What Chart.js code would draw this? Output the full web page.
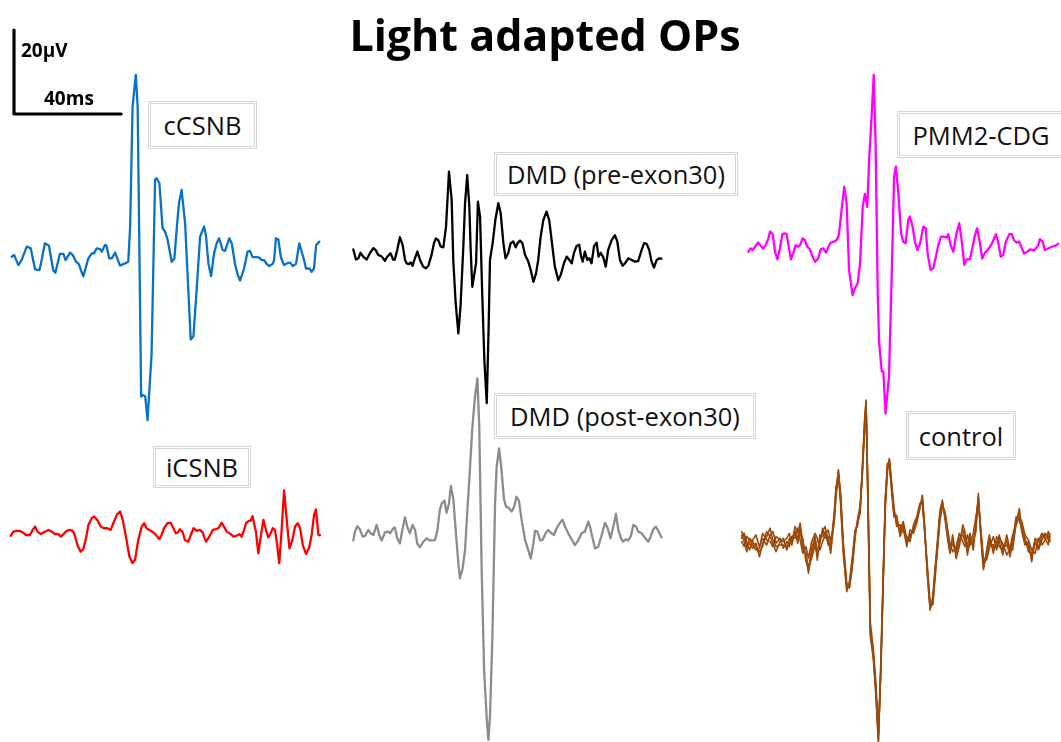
<!DOCTYPE html>
<html>
<head>
<meta charset="utf-8">
<script src="https://cdn.jsdelivr.net/npm/chart.js@4"></script>
<style>
  html, body { margin: 0; padding: 0; background: #fff; }
  #wrap { position: relative; width: 1061px; height: 742px; overflow: hidden; font-family: "Open Sans", sans-serif; }
  #ops { position: absolute; left: 0; top: 0; }
  .title { position: absolute; left: 0; width: 1090px; top: 5px; text-align: center; font-weight: bold; font-size: 43px; color: #000; }
  .tag { position: absolute; box-sizing: border-box; border: 3px double #d6d6d6; background: #fff; font-size: 25.5px; color: #111;
         display: flex; align-items: center; justify-content: center; white-space: nowrap; }
  .bar { position: absolute; font-weight: bold; font-size: 19px; color: #000; line-height: 1; }
</style>
</head>
<body>
<div id="wrap">
  <canvas id="ops" width="1061" height="742"></canvas>
  <div class="title">Light adapted OPs</div>
  <div class="bar" style="left:21px; top:41px;">20µV</div>
  <div class="bar" style="left:44px; top:89px;">40ms</div>
  <div class="tag" style="left:148px; top:101px; width:109px; height:48px;">cCSNB</div>
  <div class="tag" style="left:494px; top:152px; width:244px; height:44px;">DMD (pre-exon30)</div>
  <div class="tag" style="left:897px; top:111px; width:168px; height:47px;">PMM2-CDG</div>
  <div class="tag" style="left:153px; top:446px; width:98px; height:42px;">iCSNB</div>
  <div class="tag" style="left:494px; top:393px; width:262px; height:46px;">DMD (post-exon30)</div>
  <div class="tag" style="left:906px; top:411px; width:110px; height:49px;">control</div>
</div>
<script>
// oscillatory potentials, [time ms, amplitude µV]
const cCSNB = [
  [0.0,0.3],[0.9,0.7],[2.5,-1.7],[3.7,-0.5],[5.6,2.7],[7.1,2.3],[8.7,-2.7],[10.3,-2.9],[10.8,-1.7],[12.4,3.5],
  [13.9,2.9],[15.5,-2.9],[16.3,-3.5],[18.0,1.0],[19.3,1.0],[20.1,-0.5],[21.8,1.3],[22.8,0.7],[24.0,-0.9],[25.0,-1.4],
  [26.7,-4.4],[28.6,-0.1],[29.9,1.1],[30.7,1.1],[31.7,2.3],[33.0,2.1],[33.6,1.5],[34.8,3.1],[35.4,2.9],[36.4,-0.1],
  [37.3,-0.1],[38.6,1.3],[40.4,-1.8],[41.9,-1.4],[43.5,-0.9],[44.2,7.5],[45.1,36.0],[46.3,43.6],[47.0,36.0],[48.3,-33.0],
  [48.9,-32.6],[49.8,-32.9],[50.7,-38.6],[52.2,-22.7],[53.5,18.6],[54.1,19.0],[55.1,17.8],[56.3,7.1],[57.2,6.3],[58.2,4.3],
  [59.7,-0.9],[60.7,-0.1],[61.6,7.1],[62.4,13.0],[63.4,16.2],[64.7,8.3],[65.9,-7.6],[66.8,-19.4],[67.8,-18.7],[69.0,-7.6],
  [70.3,5.1],[71.8,7.5],[72.5,5.2],[73.4,-1.3],[74.4,-4.3],[75.5,1.1],[76.5,3.5],[77.4,4.7],[78.7,1.9],[79.6,1.7],
  [81.2,4.7],[82.1,3.5],[83.3,-1.3],[84.2,-3.7],[85.2,-5.4],[86.7,-2.5],[88.0,1.5],[88.9,1.7],[89.9,0.2],[91.4,0.2],
  [92.4,0.1],[93.3,-0.5],[94.2,-0.5],[95.1,-1.4],[96.1,-1.9],[97.4,-1.4],[97.9,-0.5],[98.6,4.7],[99.5,4.4],[100.4,0.3],
  [101.6,-1.7],[102.6,-1.3],[103.9,-1.1],[104.9,-1.9],[106.1,-1.4],[107.3,3.5],[108.2,1.5],[109.1,-0.5],[109.8,-2.5],[111.1,-2.5],
  [111.9,-3.3],[112.8,-2.5],[113.6,3.1],[114.8,3.9]
];

const dmdPre = [
  [0.0,1.8],[1.0,-0.6],[1.9,-0.3],[2.7,1.0],[3.7,0.1],[5.0,-0.6],[6.2,0.9],[7.5,2.1],[8.3,1.7],[9.3,0.5],
  [10.6,0.1],[11.8,-0.9],[12.7,0.1],[13.9,0.9],[14.9,-0.7],[15.5,-0.6],[16.4,1.7],[17.4,4.7],[18.4,2.9],[19.3,-0.7],
  [19.9,-1.5],[20.8,-1.7],[21.5,-1.3],[22.1,-2.1],[23.0,-0.3],[23.9,1.3],[24.9,-0.7],[26.1,-2.3],[27.1,-2.7],[28.0,-2.1],
  [29.2,0.5],[30.1,3.3],[30.8,4.4],[31.7,4.0],[32.6,2.5],[33.6,2.3],[34.6,7.2],[35.7,20.3],[36.7,13.6],[37.3,-0.7],
  [38.2,-11.0],[39.2,-18.2],[40.0,-11.8],[41.0,1.7],[41.7,12.8],[42.5,19.5],[43.3,12.0],[43.8,1.7],[44.4,-7.1],[45.1,-4.3],
  [45.8,-1.5],[46.5,13.2],[47.3,9.6],[48.1,-8.7],[48.9,-24.5],[49.8,-34.8],[50.5,-16.6],[51.0,-0.7],[52.0,3.3],[53.0,8.8],
  [54.1,12.8],[55.0,10.4],[56.0,3.3],[56.8,-0.3],[57.8,0.9],[58.7,3.3],[59.7,3.7],[60.6,2.3],[61.3,3.3],[62.2,3.9],
  [63.1,3.3],[64.1,0.5],[65.3,-1.1],[66.2,-3.1],[67.2,-5.9],[68.2,-3.9],[69.0,-0.7],[69.9,4.8],[70.9,8.8],[72.1,10.8],
  [73.1,8.8],[74.0,4.0],[75.2,-2.3],[76.5,-5.5],[77.4,-4.3],[78.6,-1.5],[79.6,0.1],[80.6,-0.7],[81.5,-1.5],[82.3,0.9],
  [83.3,2.6],[84.3,2.9],[85.0,0.1],[85.6,-1.1],[86.4,1.3],[87.3,-0.7],[88.1,-0.3],[88.9,-1.5],[89.8,2.5],[90.8,3.4],
  [91.5,0.1],[92.3,1.0],[93.3,-0.1],[94.2,-2.3],[95.1,1.7],[96.4,4.0],[97.6,5.2],[98.5,3.7],[99.5,-0.7],[100.5,-2.1],
  [101.4,-1.5],[102.6,-0.3],[103.9,-0.7],[105.1,-1.1],[106.3,-1.0],[107.6,1.7],[108.5,3.3],[109.5,3.1],[110.4,1.7],[111.3,-1.1],
  [112.2,-2.5],[113.2,-0.7],[114.2,-0.3],[115.0,-0.4]
];

const pmm2 = [
  [0.0,-0.9],[0.9,-0.1],[1.6,-0.5],[2.5,0.3],[3.7,1.3],[4.6,0.5],[5.6,-0.1],[6.5,0.7],[7.5,2.3],[8.1,3.9],
  [9.1,3.3],[10.0,-0.9],[10.9,-2.7],[11.8,-0.1],[12.7,3.3],[13.7,3.5],[14.3,3.3],[15.3,-0.5],[15.9,-2.7],[16.8,-1.1],
  [17.7,0.7],[18.4,0.3],[19.3,0.7],[20.3,2.3],[21.1,1.9],[22.0,0.3],[23.0,-0.3],[24.0,-2.1],[24.9,-3.3],[26.1,-2.5],
  [27.0,-0.3],[28.0,-0.1],[29.0,-1.1],[30.0,0.5],[30.8,1.3],[32.0,1.5],[33.0,1.9],[33.8,3.1],[34.8,9.0],[35.8,14.6],
  [36.7,10.6],[37.6,-5.2],[38.9,-11.2],[39.8,-9.6],[40.8,-8.4],[41.7,-3.7],[42.7,9.8],[43.5,12.9],[44.4,9.8],[45.1,21.0],
  [46.0,31.3],[46.8,41.2],[47.5,24.9],[48.3,-10.8],[48.8,-22.3],[49.8,-29.4],[50.4,-29.4],[51.2,-39.4],[52.5,-30.6],[53.5,-6.8],
  [54.4,17.0],[55.1,19.4],[56.0,13.0],[57.0,3.5],[57.8,1.5],[58.7,1.1],[59.7,6.7],[60.3,7.5],[61.3,5.1],[62.2,1.5],
  [63.1,-0.5],[64.1,1.1],[65.3,5.1],[66.2,4.7],[66.9,-1.3],[68.0,-5.2],[69.0,-4.8],[70.0,-2.1],[70.9,0.7],[71.9,2.7],
  [73.0,2.7],[74.0,2.5],[74.6,3.3],[75.5,0.7],[76.5,-0.9],[77.7,3.5],[78.7,5.9],[79.6,1.9],[80.6,-4.0],[81.5,-2.7],
  [82.7,-2.7],[83.7,0.3],[84.6,3.1],[85.4,4.7],[86.4,1.3],[87.3,-2.5],[88.3,-1.1],[89.2,-0.6],[90.2,0.3],[91.2,1.5],
  [92.4,3.3],[93.3,1.1],[94.2,-2.1],[95.1,-1.7],[96.1,1.5],[97.4,3.3],[98.3,3.3],[99.1,1.9],[100.1,1.3],[101.1,1.5],
  [102.1,-0.1],[102.9,-1.3],[104.1,-0.9],[105.3,-0.3],[106.6,-0.6],[107.3,-0.1],[108.2,0.7],[108.8,2.1],[109.8,1.5],[110.7,-0.5],
  [111.9,-0.1],[113.2,0.3],[114.4,0.5],[115.7,1.0]
];

const iCSNB = [
  [0.0,-0.6],[1.0,0.4],[2.2,0.6],[3.2,0.6],[4.5,0.2],[5.7,-0.4],[7.2,-0.4],[8.2,0.8],[9.1,1.6],[10.0,0.4],
  [11.2,-0.2],[12.2,0.2],[14.1,0.8],[15.3,0.4],[16.5,-0.2],[17.8,-0.2],[18.7,-0.8],[19.7,-0.2],[20.9,0.6],[22.1,0.8],
  [23.1,0.6],[24.0,-0.6],[24.9,-2.8],[26.1,-4.4],[27.1,-3.8],[28.1,-1.2],[29.0,2.0],[30.2,3.6],[31.1,4.0],[32.3,3.2],
  [33.6,1.6],[34.8,1.2],[36.1,1.2],[37.3,0.8],[38.3,2.4],[39.6,4.4],[40.8,5.2],[41.8,3.2],[43.0,-0.8],[44.3,-5.6],
  [45.5,-7.1],[46.4,-6.3],[47.6,-1.6],[48.9,1.6],[49.8,2.4],[50.7,1.2],[52.2,0.6],[53.2,0.2],[54.2,-0.4],[55.5,-1.4],
  [56.3,-0.4],[57.2,1.2],[58.5,2.4],[59.7,2.5],[60.7,1.2],[61.6,0.0],[62.4,0.2],[63.2,1.0],[64.2,0.2],[65.0,-1.6],
  [66.3,-2.0],[67.2,-0.4],[68.2,1.2],[69.4,0.6],[70.6,0.8],[71.6,0.2],[72.9,-2.0],[74.1,-0.8],[75.4,0.8],[76.6,1.0],
  [77.5,1.2],[78.7,2.5],[79.6,1.6],[80.6,0.4],[82.1,-0.2],[83.1,-0.8],[84.3,-0.6],[85.3,-0.2],[86.2,-0.8],[87.1,0.8],
  [87.8,2.4],[88.7,2.9],[89.6,3.0],[90.2,4.1],[90.8,2.4],[91.5,0.4],[92.4,-4.8],[93.3,-0.8],[94.3,3.2],[95.1,1.2],
  [96.1,-1.0],[97.0,0.0],[97.8,1.2],[98.6,0.8],[99.3,-2.0],[100.2,-7.1],[101.1,0.8],[102.0,10.2],[103.0,3.2],[104.0,-3.6],
  [105.1,-1.6],[106.1,1.6],[107.1,2.4],[108.0,1.2],[109.0,-2.8],[110.2,-4.9],[111.4,-3.3],[112.3,-0.4],[113.2,4.4],[113.9,5.7],
  [114.8,-0.4],[115.4,-0.4]
];

const dmdPost = [
  [0.0,-1.3],[0.6,0.8],[1.5,2.1],[2.5,1.3],[3.5,-0.4],[4.4,-0.2],[5.6,1.2],[6.5,0.4],[7.5,0.0],[8.7,2.4],
  [9.7,0.0],[10.6,-1.3],[11.8,0.6],[13.1,0.8],[13.7,0.4],[14.9,1.6],[15.5,1.8],[16.4,-0.8],[17.4,-2.0],[18.3,1.2],
  [19.3,4.2],[20.1,2.0],[21.1,0.4],[22.1,2.4],[23.0,1.3],[23.9,-2.1],[24.9,-2.9],[26.1,-1.6],[27.4,-0.8],[28.4,-1.3],
  [30.5,-1.2],[31.3,0.8],[32.3,6.0],[33.0,7.5],[34.0,8.2],[34.8,5.3],[35.7,7.5],[36.4,11.7],[37.3,8.7],[38.2,1.2],
  [39.2,-6.7],[39.8,-10.3],[40.8,-7.9],[41.7,-3.6],[42.5,5.2],[43.5,15.5],[44.4,25.4],[45.4,32.9],[46.3,37.3],[47.0,25.8],
  [47.9,-8.3],[48.8,-32.1],[49.8,-43.7],[50.4,-48.8],[51.0,-43.3],[51.9,-24.2],[52.9,7.5],[53.5,16.3],[54.4,20.6],[55.3,15.5],
  [56.2,8.7],[57.0,6.7],[57.8,6.6],[59.1,5.6],[60.0,6.7],[60.9,9.1],[61.8,8.2],[62.8,3.6],[64.1,-1.2],[65.3,-3.6],
  [66.2,-5.6],[67.2,-2.0],[67.8,1.0],[68.7,0.8],[69.7,-1.3],[70.6,-1.2],[71.9,0.6],[72.8,1.2],[73.6,0.6],[74.9,0.0],
  [75.9,1.6],[77.1,2.9],[78.1,3.6],[79.0,2.0],[80.2,0.4],[81.7,-1.3],[82.7,-2.4],[84.0,-1.2],[85.2,0.4],[86.4,0.8],
  [87.7,3.2],[88.3,2.0],[89.3,-0.8],[90.2,-3.2],[91.4,-2.8],[92.7,0.0],[93.9,2.9],[94.9,1.6],[96.0,-0.8],[97.3,2.8],
  [98.0,5.0],[98.9,1.2],[99.9,-0.8],[100.7,-1.6],[101.7,-1.0],[102.6,-1.3],[103.5,-0.4],[104.5,2.4],[105.5,2.0],[106.3,0.8],
  [107.6,0.4],[108.5,-0.4],[110.1,-1.6],[110.9,-0.4],[111.9,1.3],[112.9,2.0],[113.8,1.0],[115.0,-0.6]
];

// control group: four recordings on a common time base
const controlTime = [
  0.0,0.9,1.9,2.9,4.1,5.3,6.6,7.8,9.3,10.6, 11.6,12.8,14.3,15.5,16.8,17.8,18.7,19.9,20.9,21.8,
  22.8,24.0,24.9,26.1,27.4,28.2,29.2,30.2,31.1,32.3, 33.2,34.5,35.2,36.1,36.9,37.9,39.2,40.2,41.3,42.3,
  43.2,44.2,45.1,45.8,46.4,47.1,48.0,49.1,50.1,51.0, 51.9,52.9,53.6,54.4,55.1,56.0,56.8,57.8,59.1,60.3,
  61.6,62.8,64.1,65.3,66.5,67.4,68.2,69.3,70.3,71.3, 72.1,73.0,74.0,74.9,75.9,76.7,77.7,78.7,80.0,81.2,
  82.5,83.3,84.2,85.2,86.4,87.4,88.3,89.2,90.2,91.4, 92.4,93.9,95.1,96.1,97.4,98.9,100.1,101.1,102.4,103.6,
  104.5,105.7,107.0,108.2,109.5,110.7,112.0,113.2,114.4,115.0
];
const controlA = [
  2.8,1.6,-0.8,0.0,-1.2,0.0,-3.2,0.0,1.6,3.6, 0.8,-0.8,-0.4,-0.4,-0.8,1.2,0.0,4.0,2.4,4.8,
  0.0,-3.2,-7.1,-2.4,0.8,-4.0,0.8,2.8,4.0,0.8, -1.6,6.3,12.7,17.5,10.3,-1.6,-10.7,-9.9,-4.0,2.4,
  4.8,7.9,18.3,27.8,33.7,10.3,-21.4,-26.2,-35.7,-46.8, -29.4,-5.6,10.3,18.3,19.4,12.7,7.1,5.6,2.4,4.4,
  0.0,2.0,3.2,5.6,8.7,10.7,4.0,-7.1,-15.5,-13.5, -7.1,-0.8,7.1,9.5,6.3,2.4,-1.6,0.8,-2.4,0.0,
  3.2,1.6,-1.6,1.6,-0.8,4.0,11.1,2.4,-5.6,-2.4, 0.8,-1.2,0.4,-0.8,-1.6,0.8,-3.2,0.0,5.6,7.1,
  4.0,0.8,-0.8,-3.2,0.0,-0.8,1.6,2.4,0.8,1.6
];
const controlB = [
  1.2,2.4,0.4,-1.6,0.8,2.0,-0.8,1.2,-0.4,2.0, 2.8,0.0,1.2,-1.2,0.4,-0.8,1.6,1.2,3.6,0.8,
  -2.4,-0.8,-3.6,0.4,2.4,1.2,-1.6,0.4,2.0,3.2, 0.4,4.8,11.1,16.3,11.9,0.4,-9.5,-10.7,-5.6,1.2,
  5.6,9.1,17.1,26.6,32.5,12.7,-19.0,-25.0,-33.3,-45.2, -31.0,-7.1,8.7,17.1,20.2,14.3,8.7,4.0,4.4,2.8,
  1.6,0.4,4.4,6.3,9.5,9.9,3.2,-5.6,-14.3,-14.7, -8.7,-2.0,5.6,8.7,7.5,4.0,0.0,-2.0,-0.8,2.4,
  0.4,-0.8,2.0,-0.4,2.4,6.3,9.9,3.6,-3.6,-4.0, -1.2,1.6,-1.6,1.2,0.0,-2.8,-1.2,2.0,4.4,6.3,
  5.2,2.0,0.8,-1.6,-2.4,1.2,-0.4,0.8,2.8,0.4
];
const controlC = [
  0.4,-0.8,1.6,0.8,-0.4,-1.6,-1.2,2.4,0.8,0.4, -0.8,1.6,0.8,0.4,1.2,2.4,-0.4,2.8,0.0,2.4,
  1.2,-4.4,-5.6,-3.6,-0.4,-2.8,2.0,1.6,2.8,-0.4, -0.8,7.1,13.5,15.9,9.5,-2.4,-11.5,-9.1,-3.2,3.2,
  4.0,8.3,19.0,29.0,34.1,9.1,-22.2,-27.4,-36.5,-47.6, -28.6,-4.8,11.1,19.0,18.7,11.9,6.3,6.7,1.6,3.6,
  -0.8,3.2,2.4,4.8,8.3,11.5,4.8,-7.9,-15.9,-12.7, -6.3,0.4,7.9,10.3,5.6,1.6,-2.4,2.0,-3.6,-0.8,
  4.4,2.8,-2.8,0.4,0.8,2.8,11.9,1.6,-6.3,-1.6, 2.0,-2.4,1.6,0.4,-2.8,2.0,-1.6,-1.6,4.8,8.3,
  2.8,-0.4,0.4,-4.4,1.2,0.4,2.4,1.2,-0.4,2.4
];
const controlD = [
  2.0,0.4,-2.0,1.2,0.4,-0.8,-2.0,-0.8,2.8,1.6, 0.0,-2.0,0.4,1.2,-1.6,0.0,1.2,2.8,1.2,3.6,
  -1.2,-2.4,-6.3,-1.2,1.6,-2.4,0.0,3.6,1.2,1.6, -2.4,5.6,12.3,17.1,11.1,-0.8,-10.3,-10.3,-4.8,2.0,
  5.2,7.1,18.7,27.0,33.3,11.5,-20.2,-26.6,-34.9,-46.0, -30.2,-6.3,9.5,18.7,19.8,13.1,7.9,4.8,3.2,5.2,
  0.8,1.2,3.6,5.2,9.1,10.3,3.6,-6.3,-15.1,-14.3, -7.9,-1.2,6.7,9.1,6.7,3.2,-0.8,-0.4,-1.6,1.2,
  2.0,0.4,-0.4,2.4,-1.6,5.2,10.7,2.8,-4.8,-3.2, 0.0,-0.4,-0.8,2.0,-1.2,-0.4,-2.4,0.8,6.3,5.6,
  3.2,1.2,-2.0,-2.4,0.8,-1.6,0.8,2.0,1.6,0.8
];

// calibration bar: 20 µV up, 40 ms across
const calBar = [[0, 20], [0, 0], [40, 0]];

// figure layout: pixels per ms / µV, and where each trace's t=0, 0 µV sits
const W = 1061, H = 742;
const PX_MS = 2.68, PX_UV = 4.2;
const panels = {
  cal:     { x0: 14,    y0: 114 },
  cCSNB:   { x0: 11.7,  y0: 258 },
  dmdPre:  { x0: 353.3, y0: 257 },
  pmm2:    { x0: 748.3, y0: 248 },
  iCSNB:   { x0: 10.7,  y0: 533.3 },
  dmdPost: { x0: 353.3, y0: 535 },
  control: { x0: 741.7, y0: 543.3 }
};

const scales = {};
for (const [id, p] of Object.entries(panels)) {
  scales['x_' + id] = { type: 'linear', display: false, min: -p.x0 / PX_MS, max: (W - p.x0) / PX_MS };
  scales['y_' + id] = { type: 'linear', display: false, min: -(H - p.y0) / PX_UV, max: p.y0 / PX_UV };
}

const pts = arr => arr.map(([x, y]) => ({ x, y }));
const ctrl = vals => controlTime.map((t, i) => ({ x: t, y: vals[i] }));

function trace(id, data, color, width) {
  return {
    data, xAxisID: 'x_' + id, yAxisID: 'y_' + id,
    borderColor: color, borderWidth: width, pointRadius: 0,
    borderJoinStyle: 'round', borderCapStyle: 'round', tension: 0, clip: false, fill: false
  };
}

const brown = '#9a4a0c';
new Chart(document.getElementById('ops').getContext('2d'), {
  type: 'line',
  data: {
    datasets: [
      trace('cal', pts(calBar), '#000', 3.2),
      trace('cCSNB', pts(cCSNB), '#0a72c4', 2.3),
      trace('dmdPre', pts(dmdPre), '#000', 2.3),
      trace('pmm2', pts(pmm2), '#ff00ff', 2.3),
      trace('iCSNB', pts(iCSNB), '#ff0000', 2.3),
      trace('dmdPost', pts(dmdPost), '#8c8c8c', 2.3),
      trace('control', ctrl(controlA), brown, 1.6),
      trace('control', ctrl(controlB), brown, 1.6),
      trace('control', ctrl(controlC), brown, 1.6),
      trace('control', ctrl(controlD), brown, 1.6)
    ]
  },
  options: {
    responsive: false,
    animation: false,
    devicePixelRatio: 1,
    layout: { padding: 0 },
    scales,
    plugins: { legend: { display: false }, tooltip: { enabled: false }, title: { display: false } }
  }
});
</script>
</body>
</html>
